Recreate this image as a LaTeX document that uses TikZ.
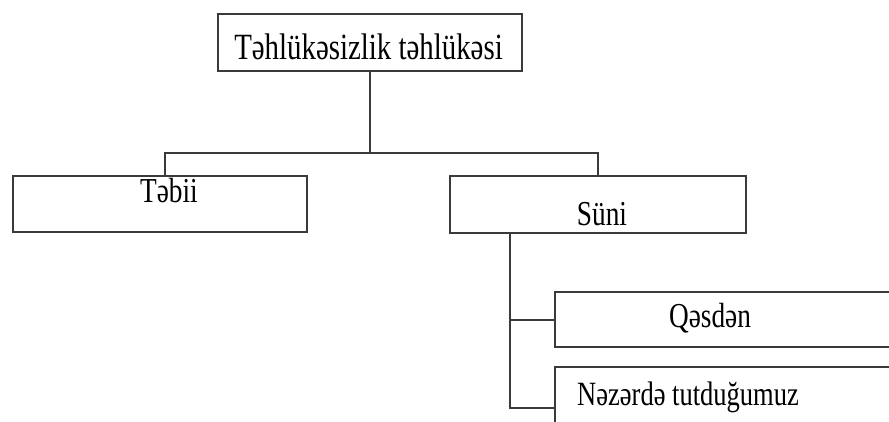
\documentclass[tikz,border=0pt]{standalone}
\usepackage{fontspec}
\newfontfamily\azfont[FakeStretch=0.78]{Liberation Serif}
\usepackage{tikz}
\definecolor{linegray}{HTML}{3A3A3A}

\begin{document}
\begin{tikzpicture}[x = 1pt, y = -1pt,
		box/.style = {draw = linegray, line width = 2.2pt, rectangle, inner sep = 0, anchor = north west},
		conn/.style = {draw = linegray, line width = 2.2pt},
		lbl/.style = {font = \azfont\fontsize{35}{42}\selectfont, inner sep = 0}]
					\clip (0,0) rectangle (889,421);
					\fill [white] (0,0) rectangle (889,421);

					% boxes
					\node [box, minimum width = 304pt, minimum height = 57pt] (top) at (217,13) {};
					\node [box, minimum width = 294pt, minimum height = 56pt] (tebii) at (12,175) {};
					\node [box, minimum width = 296pt, minimum height = 57pt] (suni) at (449,175) {};
					\node [box, minimum width = 350pt, minimum height = 55pt] (qesden) at (554,291) {};
					\node [box, minimum width = 350pt, minimum height = 82pt] (nezerde) at (554,366) {};

					% texts
					\node [lbl, anchor = base, font = \azfont\fontsize{37}{44}\selectfont] (topT) at (368.5,59) {Təhlükəsizlik təhlükəsi};
					\node [lbl, anchor = base] (tebiiT) at (169,202) {Təbii};
					\node [lbl, anchor = base] (suniT) at (602,225) {Süni};
					\node [lbl, anchor = base] (qesdenT) at (710,327) {Qəsdən};
					\node [lbl, anchor = base west, font = \azfont\fontsize{34}{41}\selectfont] (nezerdeT) at (577,405) {Nəzərdə tutduğumuz};

					% connectors
					\draw [conn] (top.south) -- ++(0,81) coordinate (fork);
					\draw [conn] ([xshift = 5pt]tebii.north) |- (fork) -| (suni.north);
					\draw [conn] ([xshift = 61pt]suni.south west) coordinate (trunk) |- (qesden.west);
					\draw [conn] (trunk) |- (nezerde.west);
				\end{tikzpicture}
\end{document}
